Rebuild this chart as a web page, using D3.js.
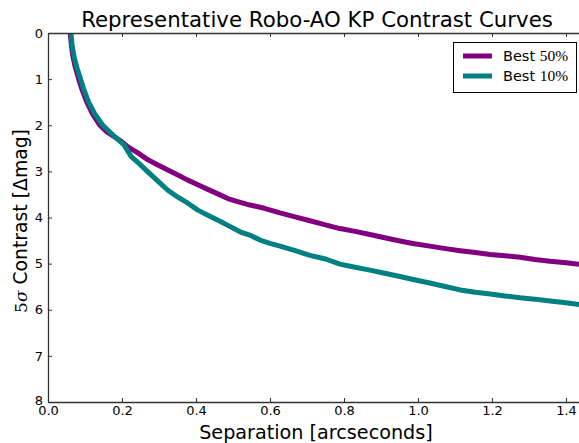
<!DOCTYPE html>
<html>
<head>
<meta charset="utf-8">
<script src="https://cdn.jsdelivr.net/npm/d3@7"></script>
<style>
  html, body { margin: 0; padding: 0; background: #fff; }
  svg { display: block; }
  text { font-family: "DejaVu Sans", sans-serif; fill: #000; }
</style>
</head>
<body>
<svg id="chart" width="579" height="443"></svg>
<script>
// Separation (arcsec) and 5-sigma contrast (delta mag) for each curve
const best50Sep = [0.060,0.063,0.067,0.074,0.083,0.093,0.105,0.120,0.140,0.160,0.180,0.200,0.216,0.243,0.270,0.297,0.324,0.351,0.378,0.405,0.432,0.465,0.486,0.515,0.546,0.585,0.627,0.665,0.708,0.750,0.789,0.830,0.870,0.910,0.951,0.990,1.032,1.070,1.114,1.155,1.195,1.235,1.276,1.316,1.357,1.400,1.450];
const best50Mag = [0.00,0.25,0.50,0.75,1.00,1.25,1.50,1.75,2.00,2.15,2.25,2.36,2.47,2.60,2.75,2.86,2.97,3.08,3.19,3.29,3.39,3.51,3.59,3.66,3.73,3.80,3.90,3.98,4.07,4.16,4.24,4.30,4.37,4.44,4.51,4.57,4.62,4.67,4.72,4.76,4.80,4.83,4.86,4.91,4.95,4.98,5.03];

const best10Sep = [0.062,0.065,0.070,0.078,0.088,0.098,0.110,0.126,0.148,0.165,0.180,0.195,0.205,0.215,0.225,0.245,0.270,0.297,0.324,0.351,0.378,0.405,0.432,0.465,0.486,0.519,0.545,0.573,0.600,0.627,0.668,0.708,0.750,0.789,0.830,0.870,0.910,0.951,0.990,1.032,1.070,1.114,1.155,1.195,1.235,1.276,1.316,1.357,1.400,1.450];
const best10Mag = [0.00,0.25,0.50,0.75,1.00,1.25,1.50,1.75,2.00,2.13,2.25,2.35,2.42,2.55,2.68,2.82,3.01,3.21,3.41,3.56,3.69,3.84,3.95,4.08,4.17,4.31,4.38,4.49,4.56,4.62,4.72,4.82,4.90,5.01,5.08,5.14,5.21,5.28,5.35,5.42,5.49,5.57,5.62,5.66,5.70,5.74,5.77,5.81,5.85,5.90];

const seriesNames = ["Best ", "Best "];
const seriesPct = ["50%", "10%"];
const seriesColors = ["#800080", "#008080"];

const xTicks = [0.0, 0.2, 0.4, 0.6, 0.8, 1.0, 1.2, 1.4];
const yTicks = [0, 1, 2, 3, 4, 5, 6, 7, 8];

const titleText = "Representative Robo-AO KP Contrast Curves";
const xTitle = "Separation [arcseconds]";

const svg = d3.select("#chart");
const plotLeft = 48, plotTop = 33, plotBottom = 402;

const x = d3.scaleLinear().domain([0, 1.5]).range([plotLeft, plotLeft + 555]);
const y = d3.scaleLinear().domain([0, 8]).range([plotTop, plotBottom]);
const plotRight = x(1.5);

svg.append("defs").append("clipPath").attr("id", "plot-clip")
  .append("rect").attr("x", plotLeft).attr("y", plotTop)
  .attr("width", plotRight - plotLeft).attr("height", plotBottom - plotTop);

// Curves
const line = d3.line().x(d => x(d[0])).y(d => y(d[1]));
const series = [
  d3.zip(best50Sep, best50Mag),
  d3.zip(best10Sep, best10Mag)
];
const curves = svg.append("g").attr("clip-path", "url(#plot-clip)");
series.forEach((pts, i) => {
  curves.append("path")
    .datum(pts)
    .attr("d", line)
    .attr("fill", "none")
    .attr("stroke", seriesColors[i])
    .attr("stroke-width", 5)
    .attr("stroke-linejoin", "round");
});

// Axes (ticks point inward)
const axisColor = "#333";
const fmt = d3.format(".1f");
const gx = svg.append("g").attr("transform", `translate(0,${plotBottom})`)
  .call(d3.axisBottom(x).tickValues(xTicks).tickFormat(fmt).tickSizeInner(-4).tickSizeOuter(0).tickPadding(4));
const gxTop = svg.append("g").attr("transform", `translate(0,${plotTop})`)
  .call(d3.axisTop(x).tickValues(xTicks).tickFormat("").tickSizeInner(-4).tickSizeOuter(0));
const gy = svg.append("g").attr("transform", `translate(${plotLeft},0)`)
  .call(d3.axisLeft(y).tickValues(yTicks).tickFormat(d3.format("d")).tickSizeInner(-4).tickSizeOuter(0).tickPadding(5));

[gx, gxTop, gy].forEach(g => {
  g.select(".domain").attr("stroke", axisColor).attr("stroke-width", 1.3);
  g.selectAll(".tick line").attr("stroke", axisColor).attr("stroke-width", 1);
  g.selectAll(".tick text").attr("font-family", "DejaVu Sans").attr("font-size", 13).attr("fill", "#000");
});
// bottom-most y label sits just above the x labels
gy.selectAll(".tick text").filter(d => d === 8).attr("dy", "0.2em");

// Titles
svg.append("text")
  .attr("x", 317).attr("y", 27)
  .attr("text-anchor", "middle")
  .attr("font-size", 21.3)
  .text(titleText);

svg.append("text")
  .attr("x", 316).attr("y", 439)
  .attr("text-anchor", "middle")
  .attr("font-size", 19.2)
  .text(xTitle);

const yt = svg.append("text")
  .attr("transform", "translate(27,221) rotate(-90)")
  .attr("text-anchor", "middle")
  .attr("font-size", 18.8);
yt.append("tspan").attr("font-family", "DejaVu Serif").attr("font-size", 17).text("5");
yt.append("tspan").attr("font-family", "DejaVu Serif").attr("font-size", 17).attr("font-style", "italic").text("σ");
yt.append("tspan").text(" Contrast [Δmag]");

// Legend
const lg = svg.append("g");
lg.append("rect")
  .attr("x", 453.5).attr("y", 42.5).attr("width", 123).attr("height", 50)
  .attr("fill", "#fff").attr("stroke", "#000").attr("stroke-width", 1);
seriesColors.forEach((c, i) => {
  const ly = 56 + i * 20;
  lg.append("line")
    .attr("x1", 463).attr("x2", 492).attr("y1", ly).attr("y2", ly)
    .attr("stroke", c).attr("stroke-width", 5);
  const t = lg.append("text")
    .attr("x", 503).attr("y", ly + 5)
    .attr("font-size", 14.5);
  t.append("tspan").text(seriesNames[i]);
  t.append("tspan").attr("font-family", "Liberation Serif").attr("font-size", 15.5).text(seriesPct[i]);
});
</script>
</body>
</html>
